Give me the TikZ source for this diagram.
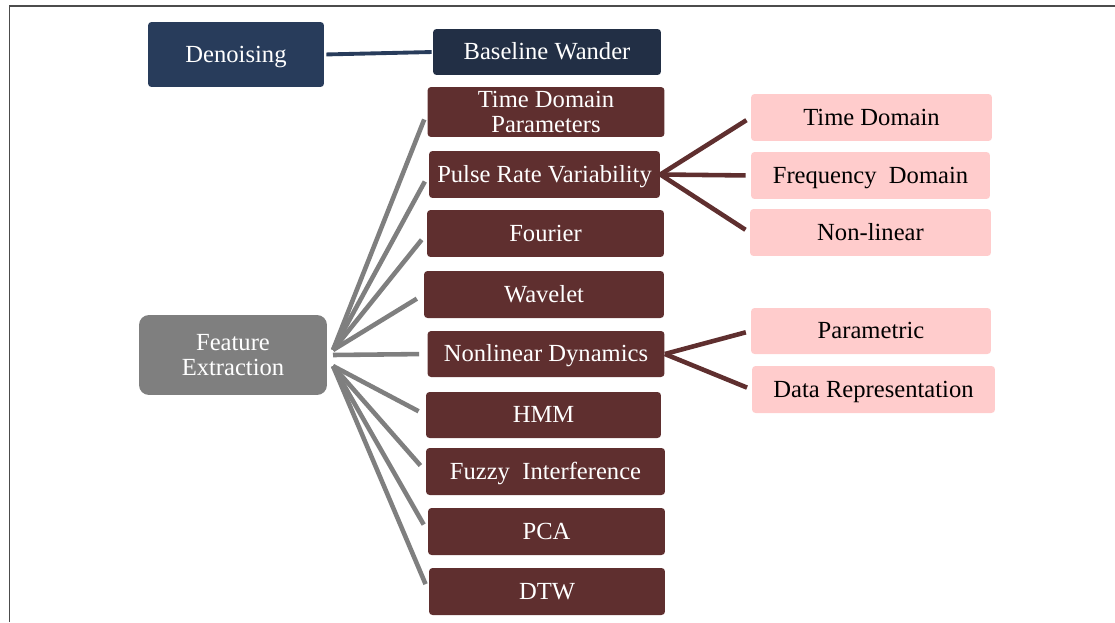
\documentclass[tikz,border=0pt]{standalone}
\usepackage{fontspec}
\setmainfont{Liberation Serif}
\definecolor{navybox}{HTML}{283C5B}
\definecolor{navydark}{HTML}{222F45}
\definecolor{maroonbox}{HTML}{5F2F2F}
\definecolor{pinkbox}{HTML}{FFCCCC}
\definecolor{greybox}{HTML}{7F7F7F}
\tikzset{
  box/.style={rectangle, rounded corners=2pt, inner sep=0pt, align=center,
    font=\fontsize{14}{13.8}\selectfont},
  oneline/.style={text height=9.3pt, text depth=0.6pt},
  darkbox/.style={box, oneline, fill=maroonbox, text=white, minimum width=4.74cm, minimum height=0.94cm},
  lightbox/.style={box, oneline, fill=pinkbox, text=black, minimum width=4.8cm, minimum height=0.94cm},
  fan/.style={draw=greybox, line width=2.6pt, shorten >=0.16cm},
  branch/.style={draw=maroonbox, line width=2.6pt, shorten >=0.1cm},
}
\begin{document}
\begin{tikzpicture}[x=0.02cm, y=-0.02cm]
\useasboundingbox (0,0) rectangle (1115,622);
\draw [line width=1pt, black!70] (9.5,622) -- (9.5,6) -- (1115,6);

% denoising
\node (den) [box, oneline, fill=navybox, text=white, minimum width=3.52cm, minimum height=1.3cm] at (236,54.5) {Denoising};
\node (bw) [box, oneline, fill=navydark, text=white, minimum width=4.56cm, minimum height=0.92cm] at (547,52) {Baseline Wander};
\draw [navybox, line width=2.2pt, shorten <=0.04cm, shorten >=0.02cm] (den.east) -- (bw.west);

% feature extraction
\node (fe) [box, rounded corners=0.2cm, fill=greybox, text=white, minimum width=3.76cm, minimum height=1.6cm] at (233,355) {Feature\\Extraction};
\coordinate (feu) at (333,350);
\coordinate (fem) at (333,355);
\coordinate (fel) at (333,366);

\node (tdp) [box, fill=maroonbox, text=white, minimum width=4.74cm, minimum height=1.0cm] at (546,112) {Time Domain\\Parameters};
\node (prv) [darkbox, minimum width=4.62cm] at (544.5,174.5) {Pulse Rate Variability};
\node (fou) [darkbox] at (545.5,233.5) {Fourier};
\node (wav) [darkbox, minimum width=4.8cm] at (544,294.5) {Wavelet};
\node (nld) [darkbox, minimum height=0.92cm] at (546,354) {Nonlinear Dynamics};
\node (hmm) [darkbox, minimum width=4.7cm, minimum height=0.92cm] at (543.5,415) {HMM};
\node (fuz) [darkbox, minimum width=4.78cm] at (545.5,471.5) {Fuzzy~ Interference};
\node (pca) [darkbox] at (546.5,531.5) {PCA};
\node (dtw) [darkbox, minimum width=4.72cm] at (547,591.5) {DTW};

\draw [fan] (feu) -- (tdp.west);
\draw [fan] (feu) -- (prv.west);
\draw [fan] (feu) -- (fou.west);
\draw [fan] (feu) -- (wav.west);
\draw [fan] (fem) -- (nld.west);
\draw [fan] (fel) -- (hmm.west);
\draw [fan] (fel) -- (fuz.west);
\draw [fan] (fel) -- (pca.west);
\draw [fan] (fel) -- (dtw.west);

% sub branches
\node (td) [lightbox, minimum width=4.82cm] at (871.5,117.5) {Time Domain};
\node (fd) [lightbox, minimum width=4.78cm] at (870.5,175.5) {Frequency~ Domain};
\node (nl) [lightbox, minimum width=4.82cm] at (870.5,232.5) {Non-linear};
\node (par) [lightbox, minimum height=0.92cm] at (871,331) {Parametric};
\node (dr) [lightbox, minimum width=4.86cm] at (873.5,389.5) {Data Representation};

\draw [branch] (prv.east) -- (td.west);
\draw [branch] (prv.east) -- (fd.west);
\draw [branch] (prv.east) -- (nl.west);
\draw [branch] (nld.east) -- (par.west);
\draw [branch] (nld.east) -- (dr.west);
\end{tikzpicture}
\end{document}
